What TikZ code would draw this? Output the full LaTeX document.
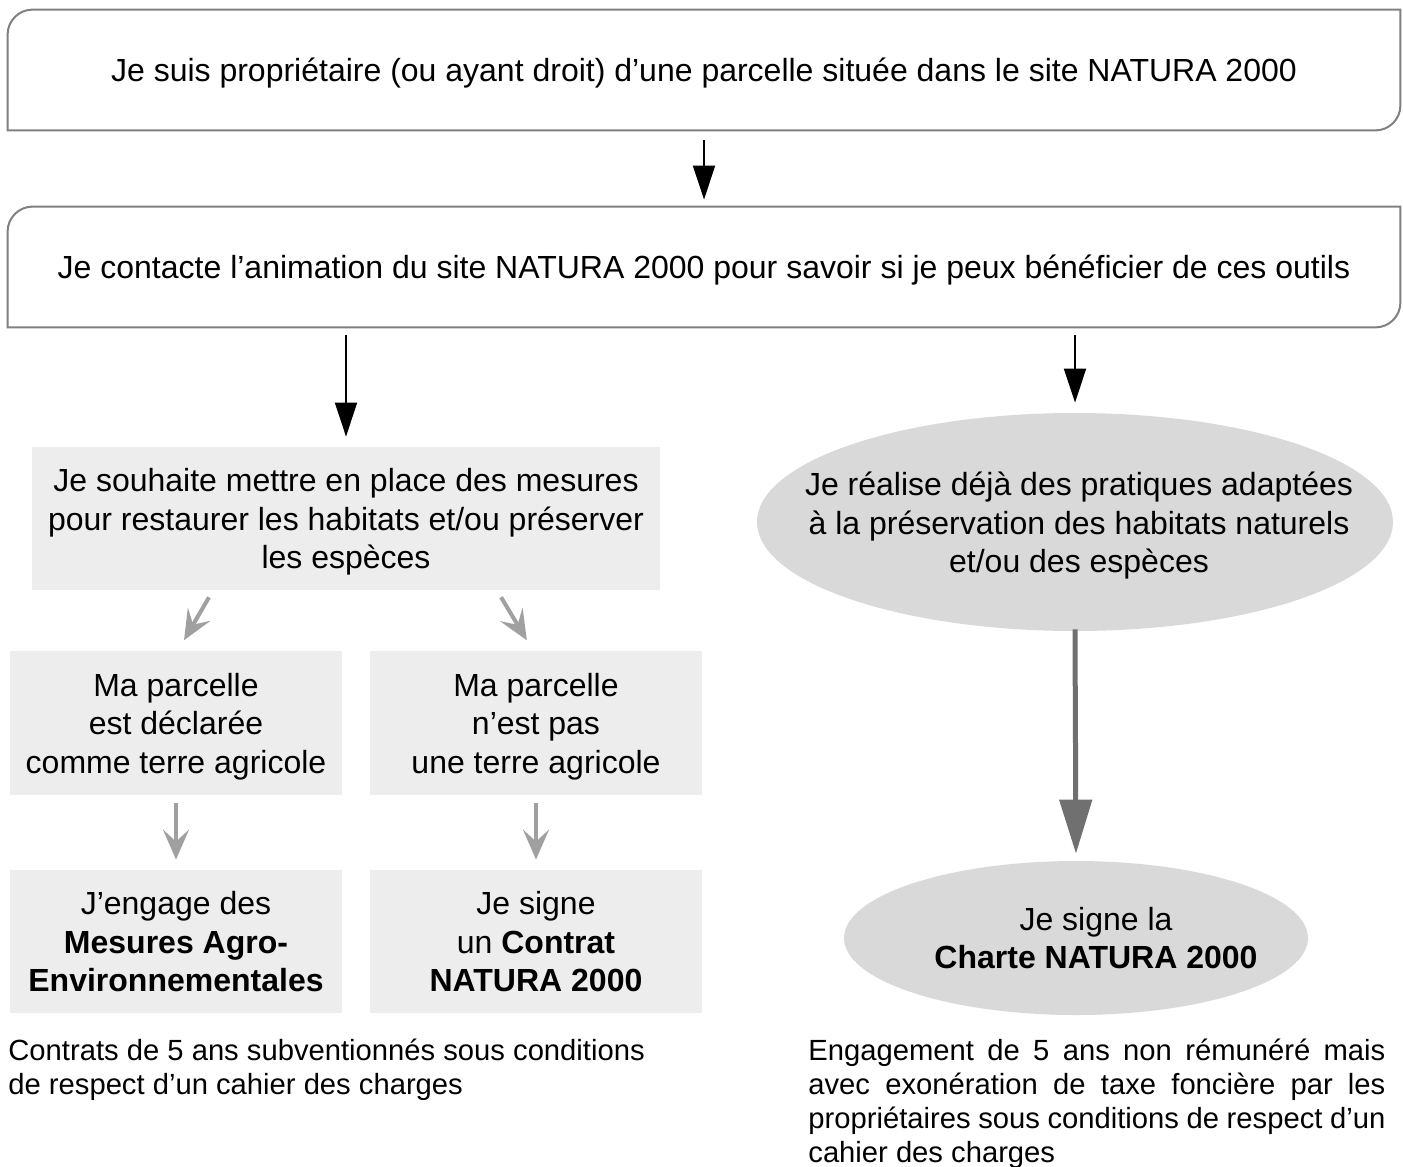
\documentclass[tikz,border=0pt]{standalone}
\usepackage{fontspec}
\setmainfont{Liberation Sans}
\usetikzlibrary{arrows.meta,shapes.geometric}

\definecolor{boxgray}{HTML}{EDEDED}
\definecolor{ellgray}{HTML}{D9D9D9}
\definecolor{framegray}{HTML}{808080}
\definecolor{arrowgray}{HTML}{A0A0A0}
\definecolor{darkarrow}{HTML}{707070}

\tikzset{
  topbox/.style={minimum width=696pt, minimum height=60pt, inner sep=0pt, text depth=0pt},
  frame/.style={draw=framegray, line width=1pt},
  greybox/.style={fill=boxgray, align=center, inner sep=0pt, text depth=0pt},
  ovale/.style={ellipse, fill=ellgray, inner sep=0pt},
  caption/.style={inner sep=0pt, font=\fontsize{14.6}{17}\selectfont},
  blackarrow/.style={-{Triangle[length=17pt,width=11pt]}, line width=1pt},
  greyarrow/.style={-{Stealth[length=15pt,width=13pt,inset=6pt]}, arrowgray, line width=2pt},
  bigarrow/.style={-{Triangle[length=27pt,width=16pt]}, darkarrow, line width=2.5pt}
}

\begin{document}
\begin{tikzpicture}[x=0.5pt,y=0.5pt,font=\fontsize{16}{19.25}\selectfont]
\useasboundingbox (0,0) rectangle (1403,-1167);

% top boxes
\node[topbox] (prop) at (704,-70) {Je suis propriétaire (ou ayant droit) d’une parcelle située dans le site NATURA 2000};
\draw[frame] (prop.south west) -- ([yshift=-12.5pt]prop.north west) arc[start angle=180,end angle=90,radius=12.5pt]
  -- (prop.north east) -- ([yshift=12.5pt]prop.south east) arc[start angle=0,end angle=-90,radius=12.5pt] -- cycle;

\node[topbox] (contact) at (704,-267) {Je contacte l’animation du site NATURA 2000 pour savoir si je peux bénéficier de ces outils};
\draw[frame] (contact.south west) -- ([yshift=-12.5pt]contact.north west) arc[start angle=180,end angle=90,radius=12.5pt]
  -- (contact.north east) -- ([yshift=12.5pt]contact.south east) arc[start angle=0,end angle=-90,radius=12.5pt] -- cycle;

% left branch
\node[greybox, minimum width=314pt, minimum height=71.5pt] (want) at (346,-518.5)
  {Je souhaite mettre en place des mesures\\pour restaurer les habitats et/ou préserver\\les espèces};
\node[greybox, minimum width=166pt, minimum height=72pt] (agri) at (176,-723)
  {Ma parcelle\\est déclarée\\comme terre agricole};
\node[greybox, minimum width=166pt, minimum height=72pt] (nagri) at (536,-723)
  {Ma parcelle\\n’est pas\\une terre agricole};
\node[greybox, minimum width=166pt, minimum height=71.5pt] (mae) at (176,-941.5)
  {J’engage des\\\textbf{Mesures Agro-}\\\textbf{Environnementales}};
\node[greybox, minimum width=166pt, minimum height=71.5pt] (contrat) at (536,-941.5)
  {Je signe\\un \textbf{Contrat}\\\textbf{NATURA 2000}};

% right branch
\node[ovale, minimum width=318pt, minimum height=109pt] (real) at (1075,-522) {};
\node[align=center, inner sep=0pt] (realtxt) at ([xshift=2pt,yshift=-2pt]real.center)
  {Je réalise déjà des pratiques adaptées\\à la préservation des habitats naturels\\et/ou des espèces};
\node[ovale, minimum width=232pt, minimum height=77pt] (charte) at (1076,-938) {};
\node[align=center, inner sep=0pt] (chartetxt) at ([xshift=10pt]charte.center)
  {Je signe la\\\textbf{Charte NATURA 2000}};

% captions
\node[caption, anchor=north west, align=left] (capl) at (8,-1039)
  {Contrats de 5 ans subventionnés sous conditions\\de respect d’un cahier des charges};
\node[caption, anchor=north west, text width=288.5pt, align=justify] (capr) at (808,-1039)
  {Engagement de 5 ans non rémunéré mais\linebreak avec exonération de taxe foncière par les\linebreak propriétaires sous conditions de respect d’un\linebreak cahier des charges};

% arrows
\draw[blackarrow, shorten <=5pt, shorten >=3.5pt] (prop.south) -- (contact.north);
\draw[blackarrow, shorten <=4pt, shorten >=5pt] (contact.south -| want.north) -- (want.north);
\draw[blackarrow, shorten <=4pt, shorten >=5pt] (contact.south -| real.north) -- (real.north);

\draw[greyarrow, shorten <=4pt, shorten >=6pt] ([xshift=-66.5pt]want.south) -- ([xshift=1pt]agri.north);
\draw[greyarrow, shorten <=4pt, shorten >=6pt] ([xshift=75.5pt]want.south) -- ([xshift=-1.5pt]nagri.north);
\draw[greyarrow, shorten <=4pt, shorten >=5pt] (agri.south) -- (mae.north);
\draw[greyarrow, shorten <=4pt, shorten >=5pt] (nagri.south) -- (contrat.north);

\draw[bigarrow, shorten <=-1pt, shorten >=3.5pt] (real.south) -- (charte.north);
\end{tikzpicture}
\end{document}
